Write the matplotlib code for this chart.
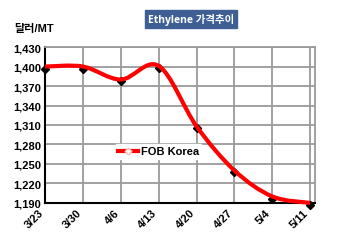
import matplotlib.pyplot as plt
import numpy as np
from matplotlib.path import Path
from matplotlib.patches import PathPatch
from matplotlib.lines import Line2D

plt.rcParams['font.family'] = ['Liberation Sans', 'Noto Sans CJK KR', 'DejaVu Sans']

# data
dates = ['3/23', '3/30', '4/6', '4/13', '4/20', '4/27', '5/4', '5/11']
fob_korea = [1400, 1400, 1380, 1401, 1308, 1240, 1200, 1190]
fob_points = [1396, 1396, 1377, 1397, 1305, 1237, 1196, 1187]
yticks = [1190, 1220, 1250, 1280, 1310, 1340, 1370, 1400, 1430]

fig = plt.figure(figsize=(3.5, 2.53), dpi=100)
ax = fig.add_axes([0.129, 0.194, 0.771, 0.616])

x = np.arange(len(dates))
ax.set_xlim(0, 7.13)
ax.set_ylim(1190, 1430)

# smoothed line like excel (catmull-rom -> bezier)
pts = list(zip(x, fob_korea))
verts = [pts[0]]
codes = [Path.MOVETO]
for i in range(len(pts) - 1):
    p0 = pts[i - 1] if i > 0 else pts[i]
    p1 = pts[i]
    p2 = pts[i + 1]
    p3 = pts[i + 2] if i + 2 < len(pts) else pts[i + 1]
    c1 = (p1[0] + (p2[0] - p0[0]) / 6, p1[1] + (p2[1] - p0[1]) / 6)
    c2 = (p2[0] - (p3[0] - p1[0]) / 6, p2[1] - (p3[1] - p1[1]) / 6)
    verts += [c1, c2, p2]
    codes += [Path.CURVE4] * 3
ax.add_patch(PathPatch(Path(verts, codes), fill=False, edgecolor='#ff0000',
                       linewidth=3, zorder=4, clip_on=False))

ax.plot(x, fob_points, linestyle='none', marker='D', markersize=4,
        color='black', zorder=3, clip_on=False)

# grid
for xi in x[1:]:
    ax.axvline(xi, color='#9a9a9a', linewidth=1.3, zorder=1)
for yi in yticks[1:]:
    ax.axhline(yi, color='#9a9a9a', linewidth=1.3, zorder=1)

ax.set_xticks(x)
ax.set_xticklabels(dates, rotation=45, fontsize=8, fontweight='bold')
ax.set_yticks(yticks)
ax.set_yticklabels([f'{v:,}' for v in yticks], fontsize=8, fontweight='bold')
ax.tick_params(length=0, pad=3)
for lab in ax.get_xticklabels():
    lab.set_ha('right')
    lab.set_va('top')

for s in ['left', 'bottom']:
    ax.spines[s].set_linewidth(1.5)
    ax.spines[s].set_color('black')
for s in ['top', 'right']:
    ax.spines[s].set_linewidth(1.3)
    ax.spines[s].set_color('#9a9a9a')

handle = Line2D([], [], color='#ff0000', linewidth=3, marker='D',
                markersize=3.5, markerfacecolor='white', markeredgecolor='#ffbbbb')
leg = ax.legend([handle], ['FOB Korea'], loc='center', bbox_to_anchor=(0.42, 0.33),
                frameon=True, fancybox=False, framealpha=1, edgecolor='white',
                handlelength=1.8, handletextpad=0.2, borderpad=0.2,
                prop={'size': 8, 'weight': 'bold'})
leg.set_zorder(5)

fig.text(0.04, 0.885, '달러/MT', fontsize=8, fontweight='bold', va='center')
fig.text(0.545, 0.921, 'Ethylene 가격추이', fontsize=7.5, fontweight='bold',
         family=['Open Sans', 'Noto Sans CJK KR'],
         color='white', ha='center', va='center',
         bbox=dict(boxstyle='square,pad=0.3', facecolor='#3d5f94', edgecolor='#3d5f94'))

fig.savefig('out.png', dpi=100)
